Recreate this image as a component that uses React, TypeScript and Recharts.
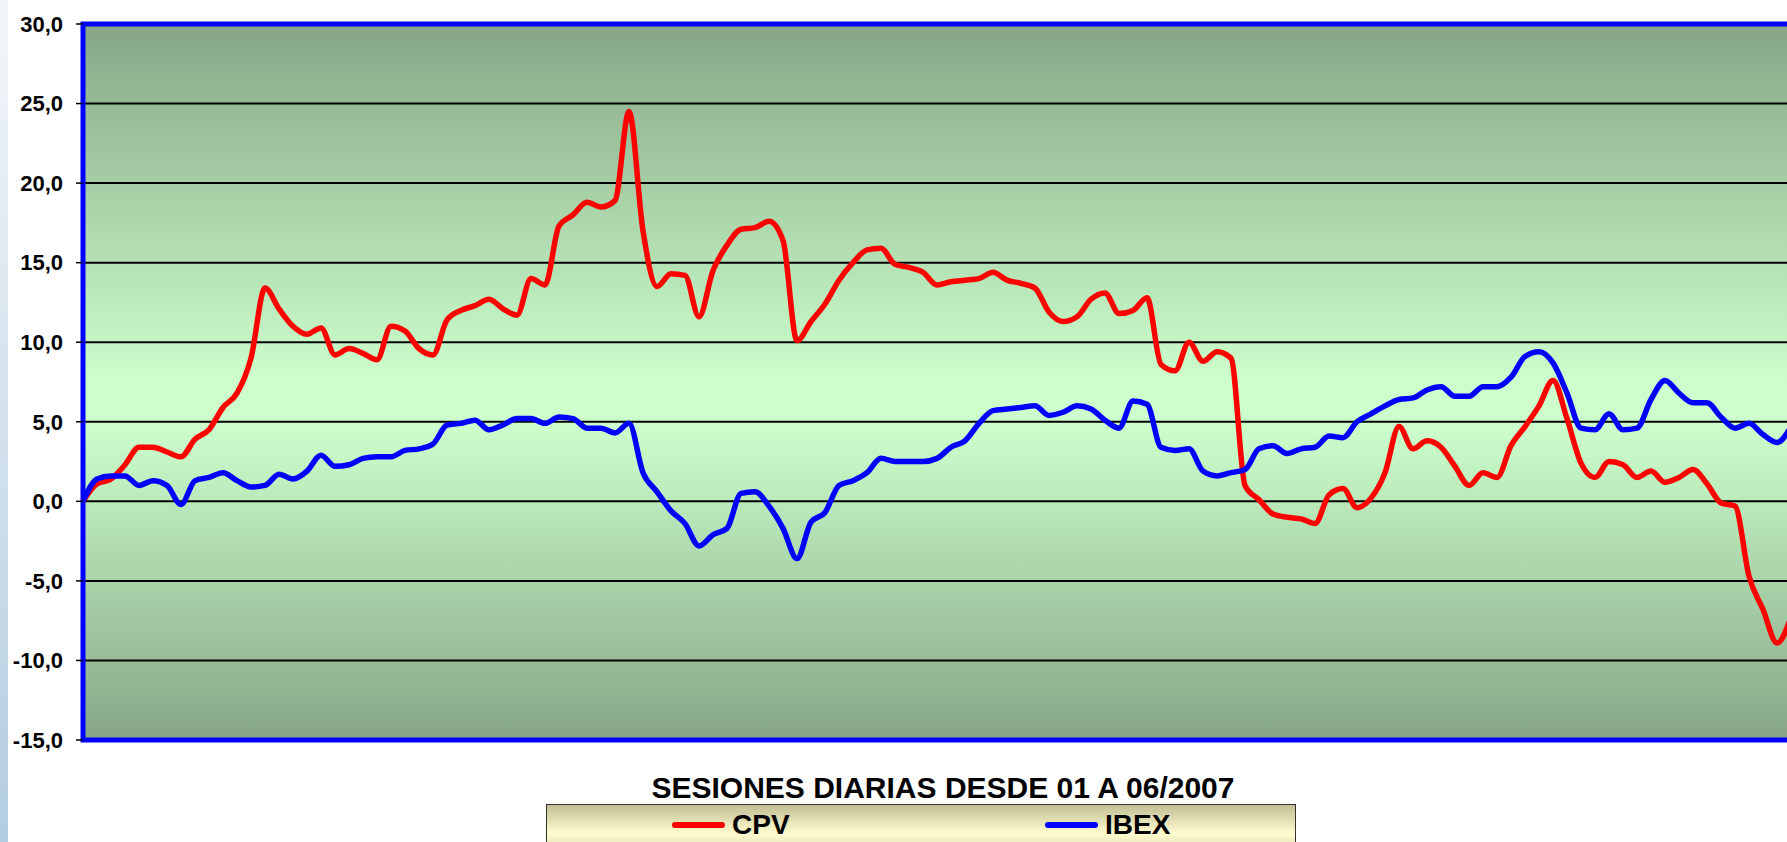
import {
  CartesianGrid,
  Line,
  LineChart,
  ReferenceArea,
  XAxis,
  YAxis,
} from "recharts";

// daily sessions, % change since start of the year
const cpv = [
  0, 1.1, 1.4, 2.3, 3.4, 3.4, 3.1, 2.8, 3.9, 4.5,
  5.9, 6.8, 9.0, 13.4, 12.1, 11.0, 10.5, 10.9, 9.2, 9.6,
  9.3, 8.9, 11.0, 10.7, 9.6, 9.2, 11.4, 12.0, 12.3, 12.7,
  12.1, 11.7, 14.0, 13.6, 17.3, 18.0, 18.8, 18.5, 18.9, 24.5,
  17.0, 13.5, 14.3, 14.2, 11.6, 14.5, 16.1, 17.1, 17.2, 17.6,
  16.4, 10.1, 11.3, 12.4, 13.9, 15.0, 15.8, 15.9, 14.9, 14.7,
  14.4, 13.6, 13.8, 13.9, 14.0, 14.4, 13.9, 13.7, 13.4, 11.9,
  11.3, 11.6, 12.7, 13.1, 11.8, 12.0, 12.8, 8.6, 8.2, 10.0,
  8.8, 9.4, 9.0, 1.0, 0.1, -0.8, -1.0, -1.1, -1.4, 0.4,
  0.8, -0.4, 0.2, 1.8, 4.7, 3.3, 3.8, 3.4, 2.2, 1.0,
  1.8, 1.5, 3.5, 4.7, 6.0, 7.6, 5.2, 2.4, 1.5, 2.5,
  2.3, 1.5, 1.9, 1.2, 1.5, 2.0, 1.1, -0.1, -0.3, -4.7,
  -6.8, -8.9, -7.3,
];

const ibex = [
  0, 1.4, 1.6, 1.6, 1.0, 1.3, 1.0, -0.2, 1.3, 1.5,
  1.8, 1.3, 0.9, 1.0, 1.7, 1.4, 1.9, 2.9, 2.2, 2.3,
  2.7, 2.8, 2.8, 3.2, 3.3, 3.6, 4.8, 4.9, 5.1, 4.5,
  4.8, 5.2, 5.2, 4.9, 5.3, 5.2, 4.6, 4.6, 4.3, 4.9,
  1.8, 0.6, -0.6, -1.4, -2.8, -2.1, -1.7, 0.5, 0.6, -0.3,
  -1.7, -3.6, -1.3, -0.7, 1.0, 1.3, 1.8, 2.7, 2.5, 2.5,
  2.5, 2.7, 3.4, 3.8, 4.9, 5.7, 5.8, 5.9, 6.0, 5.4,
  5.6, 6.0, 5.8, 5.1, 4.6, 6.3, 6.1, 3.4, 3.2, 3.3,
  1.9, 1.6, 1.8, 2.0, 3.3, 3.5, 3.0, 3.3, 3.4, 4.1,
  4.0, 5.0, 5.5, 6.0, 6.4, 6.5, 7.0, 7.2, 6.6, 6.6,
  7.2, 7.2, 7.8, 9.1, 9.4, 8.7, 6.8, 4.6, 4.5, 5.5,
  4.5, 4.6, 6.4, 7.6, 6.8, 6.2, 6.2, 5.3, 4.6, 4.9,
  4.2, 3.7, 4.7,
];

const yTicks = [-15, -10, -5, 0, 5, 10, 15, 20, 25, 30];
const title = "SESIONES DIARIAS DESDE 01 A 06/2007";

const chartData = cpv.map((v, i) => ({ session: i, cpv: v, ibex: ibex[i] }));

const fmt = (v: number) => v.toFixed(1).replace(".", ",");

const font = "'Liberation Sans', Arial, sans-serif";

export default function App() {
  return (
    <div
      style={{
        position: "fixed",
        left: 0,
        top: 0,
        width: 1787,
        height: 842,
        overflow: "hidden",
        background: "#fff",
        fontFamily: font,
      }}
    >
      <div
        style={{
          position: "absolute",
          left: 0,
          top: 0,
          width: 8,
          height: 842,
          background: "linear-gradient(to bottom, #f3f6f9, #b3cde0)",
        }}
      />
      <div style={{ position: "absolute", left: 0, top: 0 }}>
        <LineChart
          width={1843}
          height={842}
          data={chartData}
          margin={{ top: 24, right: 10, bottom: 102, left: 8 }}
        >
          <defs>
            <linearGradient id="plotBg" x1="0" y1="0" x2="0" y2="1">
              <stop offset="0%" stopColor="#86a686" />
              <stop offset="50%" stopColor="#ccffcc" />
              <stop offset="56%" stopColor="#ccffcc" />
              <stop offset="100%" stopColor="#86a686" />
            </linearGradient>
          </defs>
          <CartesianGrid
            vertical={false}
            stroke="#000"
            strokeWidth={2}
            fill="url(#plotBg)"
            fillOpacity={1}
          />
          <XAxis type="number" dataKey="session" domain={[0, 125]} hide />
          <YAxis
            type="number"
            domain={[-15, 30]}
            ticks={yTicks}
            interval={0}
            tickFormatter={fmt}
            width={75}
            axisLine={false}
            tickLine={{ stroke: "#000", strokeWidth: 1.5 }}
            tickSize={7}
            tickMargin={13}
            tick={{
              fill: "#000",
              fontSize: 22,
              fontWeight: "bold",
              fontFamily: font,
            }}
          />
          <Line
            type="monotone"
            dataKey="cpv"
            name="CPV"
            stroke="#ff0000"
            strokeWidth={5.5}
            dot={false}
            isAnimationActive={false}
          />
          <Line
            type="monotone"
            dataKey="ibex"
            name="IBEX"
            stroke="#0000ff"
            strokeWidth={5.5}
            dot={false}
            isAnimationActive={false}
          />
          <ReferenceArea
            y1={-15}
            y2={30}
            fill="none"
            fillOpacity={0}
            stroke="#0000ff"
            strokeWidth={5}
          />
        </LineChart>
      </div>

      <div
        style={{
          position: "absolute",
          left: 643,
          top: 773,
          width: 600,
          textAlign: "center",
          fontSize: 30,
          lineHeight: "30px",
          fontWeight: "bold",
          color: "#000",
          whiteSpace: "nowrap",
        }}
      >
        {title}
      </div>

      <div
        style={{
          position: "absolute",
          left: 546,
          top: 804,
          width: 750,
          height: 60,
          boxSizing: "border-box",
          border: "1px solid #333",
          background:
            "linear-gradient(to bottom, #c3bf96 0%, #fffdd0 50%, #c3bf96 100%)",
        }}
      />
      {[
        { name: "CPV", color: "#ff0000", x: 672 },
        { name: "IBEX", color: "#0000ff", x: 1045 },
      ].map((item) => (
        <div key={item.name}>
          <div
            style={{
              position: "absolute",
              left: item.x,
              top: 822,
              width: 53,
              height: 6,
              borderRadius: 3,
              background: item.color,
            }}
          />
          <div
            style={{
              position: "absolute",
              left: item.x + 60,
              top: 811,
              fontSize: 28,
              lineHeight: "28px",
              fontWeight: "bold",
              color: "#000",
            }}
          >
            {item.name}
          </div>
        </div>
      ))}
    </div>
  );
}
